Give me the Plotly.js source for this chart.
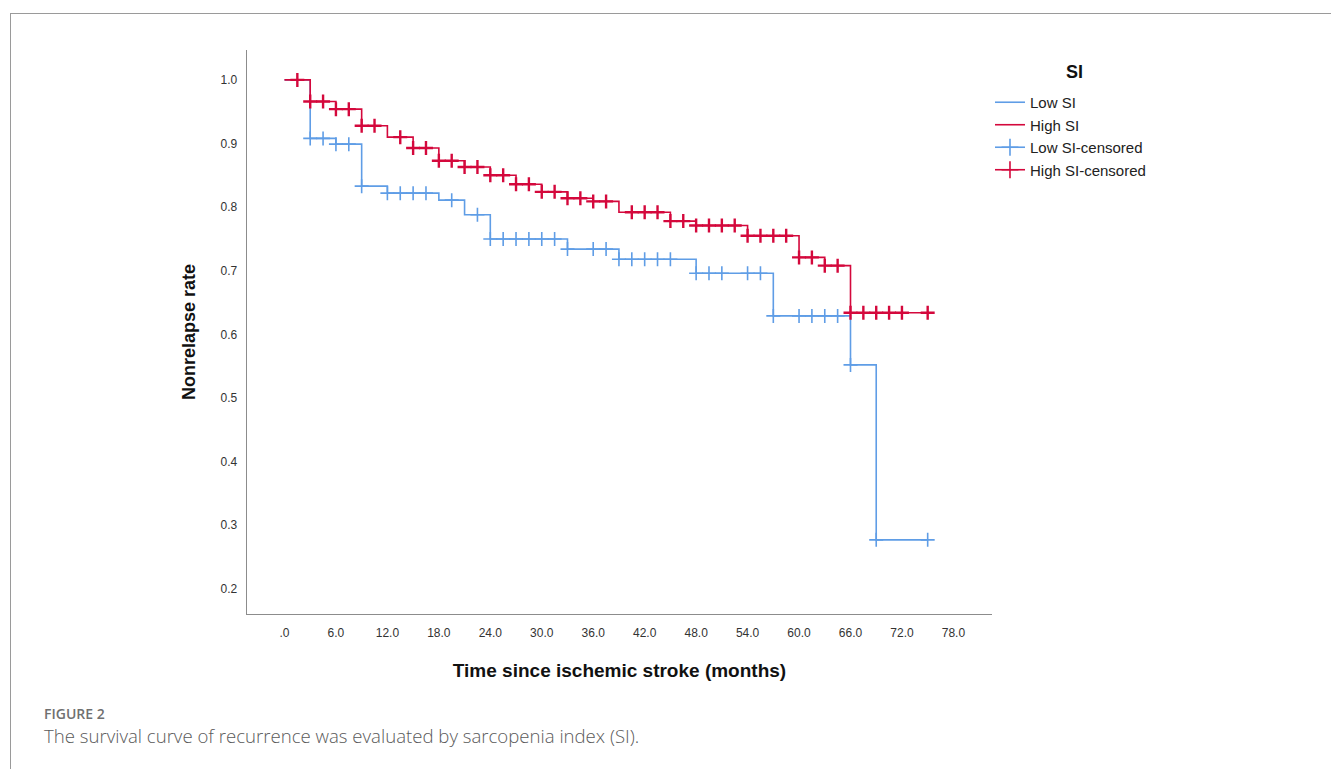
<!DOCTYPE html>
<html>
<head>
<meta charset="utf-8">
<script src="https://cdn.plot.ly/plotly-3.0.1.min.js"></script>
<style>
  html, body { margin: 0; padding: 0; background: #fff; overflow: hidden; }
  #wrap { position: relative; width: 1331px; height: 769px; }
  #chart { position: absolute; left: 0; top: 0; width: 1331px; height: 769px; }
  #frame { position: absolute; left: 10px; top: 13px; width: 1321px; height: 756px;
           border-top: 1px solid #9a9a9a; border-left: 1px solid #9a9a9a; pointer-events: none; }
  #figlabel { position: absolute; left: 44px; top: 706.6px; font-family: "Open Sans", sans-serif;
              font-size: 14px; line-height: 14px; color: #707070; font-weight: 600; white-space: nowrap; }
  #caption { position: absolute; left: 44px; top: 726.5px; font-family: "Open Sans", sans-serif;
             font-size: 18.6px; line-height: 18.6px; color: #5a5a5a; font-weight: 300; white-space: nowrap; }
</style>
</head>
<body>
<div id="wrap">
  <div id="chart"></div>
  <div id="frame"></div>
  <div id="figlabel">FIGURE 2</div>
  <div id="caption">The survival curve of recurrence was evaluated by sarcopenia index (SI).</div>
</div>
<script>
// ---- Data ----
const legendTitle = "SI";
const seriesNames = ["Low SI", "High SI", "Low SI-censored", "High SI-censored"];

// Kaplan-Meier step points (time in months, survival after the step)
const lowTimes = [0, 3, 6, 9, 12, 18, 21, 24, 33, 39, 48, 57, 66, 69, 75];
const lowSurv  = [1.0, 0.908, 0.899, 0.833, 0.822, 0.811, 0.788, 0.750, 0.734, 0.718, 0.696, 0.629, 0.552, 0.277, 0.277];

const highTimes = [0, 3, 6, 9, 12, 15, 18, 21, 24, 27, 30, 33, 36, 39, 45, 48, 54, 60, 63, 66, 75];
const highSurv  = [1.0, 0.966, 0.954, 0.928, 0.910, 0.893, 0.873, 0.863, 0.850, 0.836, 0.824, 0.814, 0.809, 0.792, 0.778, 0.771, 0.755, 0.721, 0.708, 0.634, 0.634];

// Censoring times
const lowCensTimes = [3, 4.5, 6, 7.5, 9, 12, 13.5, 15, 16.5, 19.5, 22.5, 24, 25.5, 27, 28.5, 30, 31.5, 33, 36, 37.5,
                      39, 40.5, 42, 43.5, 45, 48, 49.5, 51, 54, 55.5, 57, 60, 61.5, 63, 64.5, 66, 69, 75];
const highCensTimes = [1.5, 3, 4.5, 6, 7.5, 9, 10.5, 13.5, 15, 16.5, 18, 19.5, 21, 22.5, 24, 25.5, 27, 28.5, 30, 31.5,
                       33, 34.5, 36, 37.5, 40.5, 42, 43.5, 45, 46.5, 48, 49.5, 51, 52.5, 54, 55.5, 57, 58.5, 60, 61.5,
                       63, 64.5, 66, 67.5, 69, 70.5, 72, 75];

// Axis ticks
const xTickVals = [0, 6, 12, 18, 24, 30, 36, 42, 48, 54, 60, 66, 72, 78];
const xTickText = [".0", "6.0", "12.0", "18.0", "24.0", "30.0", "36.0", "42.0", "48.0", "54.0", "60.0", "66.0", "72.0", "78.0"];
const yTickVals = [0.2, 0.3, 0.4, 0.5, 0.6, 0.7, 0.8, 0.9, 1.0];
const yTickText = ["0.2", "0.3", "0.4", "0.5", "0.6", "0.7", "0.8", "0.9", "1.0"];

// ---- helpers ----
function stepValue(times, surv, t) {
  let v = surv[0];
  for (let i = 0; i < times.length; i++) { if (times[i] <= t) v = surv[i]; }
  return v;
}
const lowCensY = lowCensTimes.map(t => stepValue(lowTimes, lowSurv, t));
const highCensY = highCensTimes.map(t => stepValue(highTimes, highSurv, t));

const BLUE = "#5f9de6";
const RED = "#d4083c";

const traces = [
  { x: lowTimes, y: lowSurv, name: seriesNames[0], mode: "lines", line: { shape: "hv", color: BLUE, width: 1.6 },
    hoverinfo: "skip", legendrank: 1 },
  { x: highTimes, y: highSurv, name: seriesNames[1], mode: "lines", line: { shape: "hv", color: RED, width: 1.6 },
    hoverinfo: "skip", legendrank: 2 },
  { x: lowCensTimes, y: lowCensY, name: seriesNames[2], mode: "markers", showlegend: false,
    marker: { symbol: "cross-thin", size: 10, line: { color: BLUE, width: 1.6 } }, hoverinfo: "skip" },
  { x: highCensTimes, y: highCensY, name: seriesNames[3], mode: "markers", showlegend: false,
    marker: { symbol: "cross-thin", size: 10, line: { color: RED, width: 2.4 } }, hoverinfo: "skip" },
  // legend-only entries for censored series (line with a cross)
  { x: [null], y: [null], name: seriesNames[2], mode: "lines+markers", line: { color: BLUE, width: 1.6 },
    marker: { symbol: "cross-thin", size: 12, line: { color: BLUE, width: 1.6 } }, legendrank: 3 },
  { x: [null], y: [null], name: seriesNames[3], mode: "lines+markers", line: { color: RED, width: 1.6 },
    marker: { symbol: "cross-thin", size: 12, line: { color: RED, width: 1.6 } }, legendrank: 4 }
];

const axisFont = { family: "Liberation Sans, Arial, sans-serif", size: 12, color: "#333" };

const layout = {
  width: 1331, height: 769,
  paper_bgcolor: "rgba(0,0,0,0)", plot_bgcolor: "#fff",
  margin: { l: 247, r: 339, t: 50, b: 155 },
  showlegend: true,
  font: { family: "Liberation Sans, Arial, sans-serif", color: "#222" },
  xaxis: {
    range: [-4.37, 82.5], showgrid: false, zeroline: false,
    showline: true, linecolor: "#8c8c8c", linewidth: 1.3,
    tickmode: "array", tickvals: xTickVals, ticktext: xTickText, ticks: "",
    ticklabelstandoff: 7, tickfont: axisFont,
    title: { text: "<b>Time since ischemic stroke (months)</b>", font: { family: "Liberation Sans, Arial, sans-serif", size: 19, color: "#111" }, standoff: 25 },
    automargin: false
  },
  yaxis: {
    range: [0.1604, 1.047], showgrid: false, zeroline: false,
    showline: true, linecolor: "#8c8c8c", linewidth: 1.3,
    tickmode: "array", tickvals: yTickVals, ticktext: yTickText, ticks: "",
    ticklabelstandoff: 6, tickfont: axisFont,
    title: { text: "<b>Nonrelapse rate</b>", font: { family: "Liberation Sans, Arial, sans-serif", size: 18, color: "#111" }, standoff: 20 },
    automargin: false
  },
  legend: {
    x: 0.9973, xanchor: "left", y: 0.9362, yanchor: "top",
    bgcolor: "rgba(0,0,0,0)", borderwidth: 0,
    font: { family: "Liberation Sans, Arial, sans-serif", size: 15, color: "#222" },
    itemwidth: 30, tracegroupgap: 0
  },
  annotations: [
    { text: "<b>" + legendTitle + "</b>", xref: "paper", yref: "paper", x: 1.1114, y: 0.961,
      xanchor: "center", yanchor: "middle", showarrow: false,
      font: { family: "Liberation Sans, Arial, sans-serif", size: 18, color: "#111" } }
  ]
};

Plotly.newPlot("chart", traces, layout, { staticPlot: true, displayModeBar: false });
</script>
</body>
</html>
